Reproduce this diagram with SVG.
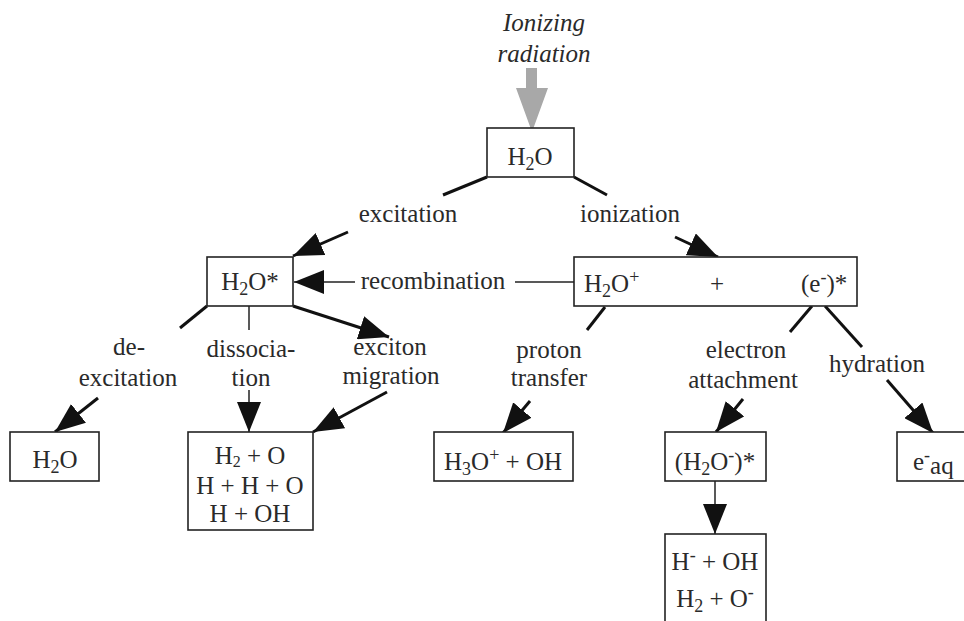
<svg xmlns="http://www.w3.org/2000/svg" width="964" height="621" viewBox="0 0 964 621">
<style>
text{font-family:"Liberation Serif","Times New Roman",serif;font-size:25px;fill:#2a2a2a;text-anchor:middle}
.st{text-anchor:start}
.it{font-style:italic}
.box{fill:#fff;stroke:#222;stroke-width:1.6}
.thick{stroke:#111;stroke-width:3;fill:none}
.thin{stroke:#222;stroke-width:1.5;fill:none}
.sm{font-size:18px}
.xs{font-size:16px}
</style>
<defs>
<marker id="ah" markerUnits="userSpaceOnUse" markerWidth="32" markerHeight="24" refX="30" refY="12" orient="auto">
<path d="M0,0 L30,12 L0,24 z" fill="#111"/>
</marker>
</defs>

<g id="source">
<text class="it" x="544" y="31">Ionizing</text>
<text class="it" x="544" y="62">radiation</text>
<polygon points="526,68 537,68 537,88 548,88 532,132 516,88 526,88" fill="#a8a8a8"/>
</g>

<g id="connectors">
<line class="thick" x1="487" y1="177" x2="443" y2="195"/>
<line class="thick" x1="574" y1="177" x2="607" y2="195"/>
<line class="thick" x1="348" y1="232" x2="293" y2="256" marker-end="url(#ah)"/>
<line class="thick" x1="675" y1="237" x2="718" y2="257" marker-end="url(#ah)"/>
<line class="thin" x1="574" y1="282" x2="515" y2="282"/>
<line class="thin" x1="355" y1="282" x2="294" y2="282" marker-end="url(#ah)"/>
<line class="thick" x1="207" y1="306" x2="180" y2="328"/>
<line class="thin" x1="249" y1="306" x2="249" y2="330"/>
<line class="thick" x1="293" y1="306" x2="389" y2="337" marker-end="url(#ah)"/>
<line class="thick" x1="98" y1="398" x2="55" y2="432" marker-end="url(#ah)"/>
<line class="thin" x1="249" y1="390" x2="249" y2="432" marker-end="url(#ah)"/>
<line class="thick" x1="387" y1="392" x2="313" y2="432" marker-end="url(#ah)"/>
<line class="thick" x1="605" y1="307" x2="587" y2="330"/>
<line class="thick" x1="530" y1="401" x2="503" y2="433" marker-end="url(#ah)"/>
<line class="thick" x1="812" y1="306" x2="790" y2="332"/>
<line class="thick" x1="743" y1="399" x2="716" y2="432" marker-end="url(#ah)"/>
<line class="thick" x1="825" y1="306" x2="862" y2="347"/>
<line class="thick" x1="887" y1="380" x2="933" y2="433" marker-end="url(#ah)"/>
<line class="thin" x1="715" y1="481" x2="715" y2="534" marker-end="url(#ah)"/>
</g>

<g id="labels">
<text x="408" y="222">excitation</text>
<text x="630" y="222">ionization</text>
<text x="433" y="289">recombination</text>
<text x="129" y="355">de-</text>
<text x="128" y="386">excitation</text>
<text x="251" y="357">dissocia-</text>
<text x="251" y="386">tion</text>
<text x="390" y="355">exciton</text>
<text x="391" y="384">migration</text>
<text x="549" y="358">proton</text>
<text x="549" y="386">transfer</text>
<text x="746" y="358">electron</text>
<text x="743" y="388">attachment</text>
<text x="877" y="372">hydration</text>
</g>

<g id="water">
<rect class="box" x="487" y="128" width="87" height="49"/>
<text x="530" y="165">H<tspan class="sm" dy="5">2</tspan><tspan dy="-5">O</tspan></text>
</g>

<g id="excited">
<rect class="box" x="207" y="257" width="86" height="49"/>
<text x="250" y="290">H<tspan class="sm" dy="5">2</tspan><tspan dy="-5">O*</tspan></text>
</g>

<g id="ionized">
<rect class="box" x="574" y="257" width="283" height="49"/>
<text class="st" x="584" y="292">H<tspan class="sm" dy="5">2</tspan><tspan dy="-5">O</tspan><tspan class="sm" dy="-9">+</tspan></text>
<text x="717" y="292">+</text>
<text class="st" x="801" y="292">(e<tspan class="sm" dy="-9">-</tspan><tspan dy="9">)*</tspan></text>
</g>

<g id="water2">
<rect class="box" x="10" y="432" width="89" height="49"/>
<text x="55" y="468">H<tspan class="sm" dy="5">2</tspan><tspan dy="-5">O</tspan></text>
</g>

<g id="dissociation-products">
<rect class="box" x="188" y="432" width="125" height="98"/>
<text x="250" y="464">H<tspan class="xs" dy="3">2</tspan><tspan dy="-3"> + O</tspan></text>
<text x="250" y="494">H + H + O</text>
<text x="250" y="522">H + OH</text>
</g>

<g id="hydronium">
<rect class="box" x="434" y="432" width="139" height="49"/>
<text x="503" y="470">H<tspan class="sm" dy="5">3</tspan><tspan dy="-5">O</tspan><tspan class="sm" dy="-9">+</tspan><tspan dy="9"> + OH</tspan></text>
</g>

<g id="anion">
<rect class="box" x="665" y="432" width="101" height="49"/>
<text x="715" y="470">(H<tspan class="sm" dy="5">2</tspan><tspan dy="-5">O</tspan><tspan class="sm" dy="-9">-</tspan><tspan dy="9">)*</tspan></text>
</g>

<g id="anion-products">
<rect class="box" x="665" y="534" width="101" height="100"/>
<text x="715" y="570">H<tspan class="sm" dy="-9">-</tspan><tspan dy="9"> + OH</tspan></text>
<text x="715" y="607">H<tspan class="sm" dy="5">2</tspan><tspan dy="-5"> + O</tspan><tspan class="sm" dy="-9">-</tspan></text>
</g>

<g id="hydrated">
<rect class="box" x="897" y="432" width="80" height="49"/>
<text class="st" x="913" y="470">e<tspan class="sm" dy="-9">-</tspan><tspan dy="13">aq</tspan></text>
</g>
</svg>
